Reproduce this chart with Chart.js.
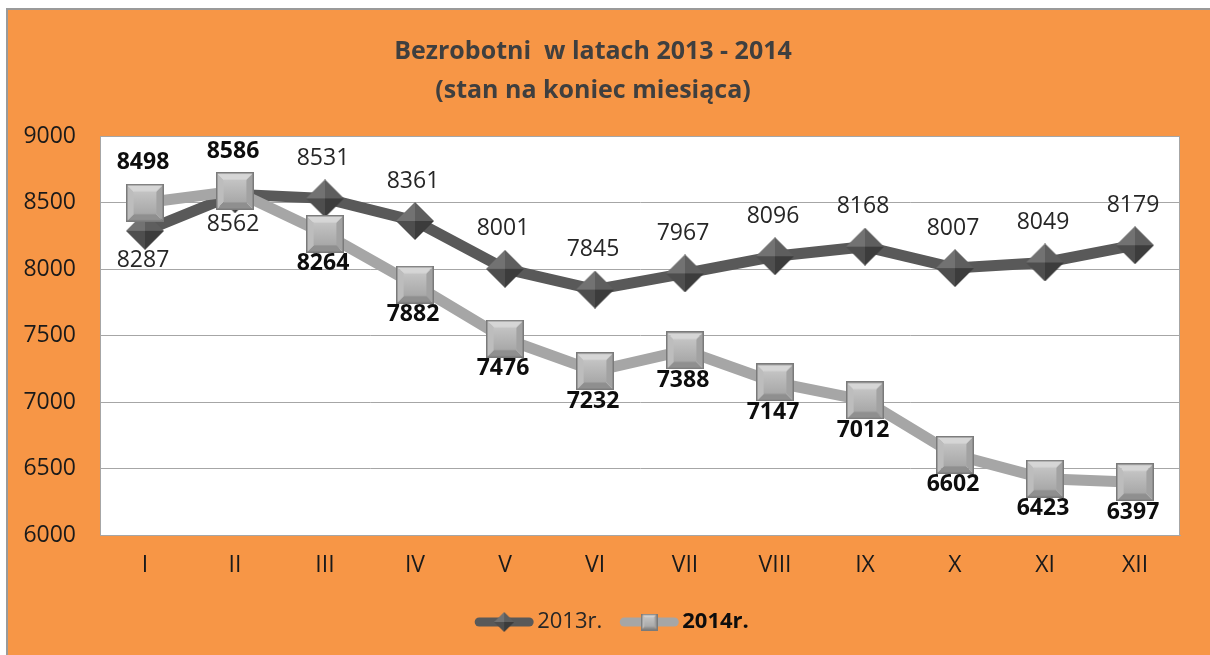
<!DOCTYPE html>
<html>
<head>
<meta charset="utf-8">
<script src="https://cdn.jsdelivr.net/npm/chart.js@4"></script>
<style>
  body { margin: 0; background: #fff; }
  #panel { position: absolute; left: 6px; top: 8px; width: 1204px; height: 647px;
           background: #F79646; border-left: 2px solid #9a9a9a; border-top: 2px solid #9a9a9a; }
  #c { position: absolute; left: 0; top: 0; }
</style>
</head>
<body>
<div id="panel"></div>
<canvas id="c" width="1210" height="655"></canvas>
<script>
const months = ["I", "II", "III", "IV", "V", "VI", "VII", "VIII", "IX", "X", "XI", "XII"];
const y2013 = [8287, 8562, 8531, 8361, 8001, 7845, 7967, 8096, 8168, 8007, 8049, 8179];
const y2014 = [8498, 8586, 8264, 7882, 7476, 7232, 7388, 7147, 7012, 6602, 6423, 6397];
const seriesNames = ["2013r.", "2014r."];
const titleLines = ["Bezrobotni  w latach 2013 - 2014", "(stan na koniec miesiąca)"];

// bevelled square marker (2014)
function squareMarker(s) {
  const c = document.createElement("canvas");
  c.width = s; c.height = s;
  const g = c.getContext("2d");
  const m = s / 2;
  const faces = [
    [[0, 0], [s, 0], [m, m], "#d6d6d6"],
    [[0, 0], [0, s], [m, m], "#bdbdbd"],
    [[s, 0], [s, s], [m, m], "#a2a2a2"],
    [[0, s], [s, s], [m, m], "#8f8f8f"]
  ];
  faces.forEach(f => {
    g.beginPath(); g.moveTo(f[0][0], f[0][1]); g.lineTo(f[1][0], f[1][1]); g.lineTo(f[2][0], f[2][1]);
    g.closePath(); g.fillStyle = f[3]; g.fill();
  });
  const i = s * 0.2;
  const grd = g.createLinearGradient(0, i, 0, s - i);
  grd.addColorStop(0, "#c4c4c4"); grd.addColorStop(1, "#a8a8a8");
  g.fillStyle = grd;
  g.fillRect(i, i, s - 2 * i, s - 2 * i);
  g.strokeStyle = "#7a7a7a"; g.lineWidth = 1.5;
  g.strokeRect(0.75, 0.75, s - 1.5, s - 1.5);
  return c;
}

// faceted diamond marker (2013)
function diamondMarker(s) {
  const c = document.createElement("canvas");
  c.width = s; c.height = s;
  const g = c.getContext("2d");
  const m = s / 2;
  const faces = [
    [[m, 0], [0, m], "#727272"],
    [[m, 0], [s, m], "#5e5e5e"],
    [[0, m], [m, s], "#4e4e4e"],
    [[s, m], [m, s], "#3c3c3c"]
  ];
  faces.forEach(f => {
    g.beginPath(); g.moveTo(f[0][0], f[0][1]); g.lineTo(f[1][0], f[1][1]); g.lineTo(m, m);
    g.closePath(); g.fillStyle = f[2]; g.fill();
  });
  return c;
}

const dia = diamondMarker(38);
const sq = squareMarker(38);
const diaSmall = diamondMarker(20);
const sqSmall = squareMarker(17);

const plotFrame = {
  id: "plotFrame",
  beforeDraw(chart) {
    const a = chart.chartArea, ctx = chart.ctx;
    ctx.save();
    ctx.fillStyle = "#ffffff";
    ctx.fillRect(a.left, a.top, a.right - a.left, a.bottom - a.top);
    ctx.restore();
  },
  afterDraw(chart) {
    const a = chart.chartArea, ctx = chart.ctx;
    ctx.save();
    ctx.strokeStyle = "#a6a6a6"; ctx.lineWidth = 1;
    ctx.strokeRect(a.left + 0.5, a.top + 0.5, a.right - a.left - 1, a.bottom - a.top);
    ctx.restore();
  }
};

const valueLabels = {
  id: "valueLabels",
  afterDatasetsDraw(chart) {
    const ctx = chart.ctx;
    const sets = chart.data.datasets;
    ctx.save();
    ctx.textAlign = "center";
    ctx.textBaseline = "middle";
    sets.forEach((ds, i) => {
      const meta = chart.getDatasetMeta(i);
      ctx.font = (i === 1 ? "bold " : "") + "23px 'Open Sans'";
      ctx.fillStyle = i === 1 ? "#0d0d0d" : "#262626";
      meta.data.forEach((pt, j) => {
        const above = ds.data[j] >= sets[1 - i].data[j];
        const y = above ? pt.y - 40 : pt.y + 30;
        ctx.fillText(String(ds.data[j]), pt.x - 2, y);
      });
    });
    ctx.restore();
  }
};

const bottomLegend = {
  id: "bottomLegend",
  afterDraw(chart) {
    const ctx = chart.ctx;
    const y = 622;
    ctx.save();
    ctx.textBaseline = "middle";
    ctx.font = "22px 'Open Sans'";
    const w1 = ctx.measureText(seriesNames[0]).width;
    ctx.font = "bold 22px 'Open Sans'";
    const w2 = ctx.measureText(seriesNames[1]).width;
    const lineW = 58, gap = 4, between = 18;
    const total = lineW + gap + w1 + between + lineW + gap + w2;
    let x = 612 - total / 2;
    const items = [
      [chart.data.datasets[0].borderColor, diaSmall, "22px 'Open Sans'", w1, "#262626"],
      [chart.data.datasets[1].borderColor, sqSmall, "bold 22px 'Open Sans'", w2, "#0d0d0d"]
    ];
    items.forEach((it, k) => {
      ctx.strokeStyle = it[0]; ctx.lineWidth = 9; ctx.lineCap = "round";
      ctx.beginPath(); ctx.moveTo(x + 4, y); ctx.lineTo(x + lineW - 4, y); ctx.stroke();
      ctx.drawImage(it[1], x + lineW / 2 - it[1].width / 2, y - it[1].height / 2);
      x += lineW + gap;
      ctx.font = it[2]; ctx.fillStyle = it[4]; ctx.textAlign = "left";
      ctx.fillText(seriesNames[k], x, y);
      x += it[3] + between;
    });
    ctx.restore();
  }
};

new Chart(document.getElementById("c"), {
  type: "line",
  data: {
    labels: months,
    datasets: [
      {
        label: seriesNames[0],
        data: y2013,
        borderColor: "#595959",
        borderWidth: 11,
        pointStyle: dia,
        pointRadius: 19,
        tension: 0,
        order: 1
      },
      {
        label: seriesNames[1],
        data: y2014,
        borderColor: "#a6a6a6",
        borderWidth: 11,
        pointStyle: sq,
        pointRadius: 19,
        tension: 0,
        order: 0
      }
    ]
  },
  options: {
    responsive: false,
    animation: false,
    events: [],
    layout: { padding: { left: 0, right: 24, top: 0, bottom: 60 } },
    plugins: {
      legend: { display: false },
      tooltip: { enabled: false },
      title: {
        display: true,
        text: titleLines,
        color: "#3f3f3f",
        font: { family: "'Open Sans', sans-serif", size: 25, weight: "bold", lineHeight: 1.56 },
        padding: { top: 32, bottom: 26 }
      }
    },
    scales: {
      x: {
        offset: true,
        grid: { display: false, drawTicks: false },
        border: { display: true, color: "#a6a6a6" },
        ticks: { color: "#1a1a1a", font: { family: "'Open Sans'", size: 23 }, padding: 17 },
        afterFit(s) { s.height = 60; }
      },
      y: {
        min: 6000,
        max: 9000,
        grid: { color: "#a6a6a6", drawTicks: false },
        border: { display: true, color: "#a6a6a6" },
        ticks: {
          stepSize: 500,
          color: "#1a1a1a",
          font: { family: "'Open Sans'", size: 23 },
          padding: 24,
          callback: v => String(v)
        },
        afterFit(s) { s.width = 100; }
      }
    }
  },
  plugins: [plotFrame, valueLabels, bottomLegend]
});
</script>
</body>
</html>
